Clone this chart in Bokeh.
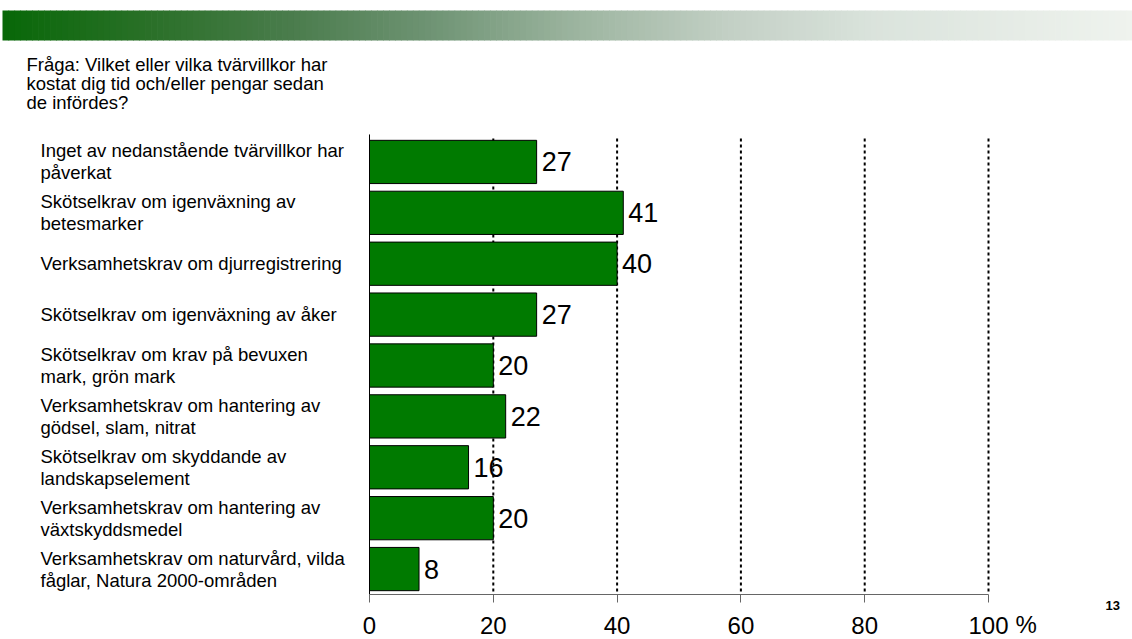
from bokeh.plotting import figure
from bokeh.models import (Range1d, FixedTicker, ColumnDataSource,
                          LabelSet, Label, BoxAnnotation)
from bokeh.core.properties import value
from bokeh.embed import file_html
from bokeh.resources import INLINE

# ---------------- data ----------------
categories = [
    "Inget av nedanstående tvärvillkor har\npåverkat",
    "Skötselkrav om igenväxning av\nbetesmarker",
    "Verksamhetskrav om djurregistrering",
    "Skötselkrav om igenväxning av åker",
    "Skötselkrav om krav på bevuxen\nmark, grön mark",
    "Verksamhetskrav om hantering av\ngödsel, slam, nitrat",
    "Skötselkrav om skyddande av\nlandskapselement",
    "Verksamhetskrav om hantering av\nväxtskyddsmedel",
    "Verksamhetskrav om naturvård, vilda\nfåglar, Natura 2000-områden",
]
values = [27, 41, 40, 27, 20, 22, 16, 20, 8]
x_ticks = [0, 20, 40, 60, 80, 100]
question_lines = [
    "Fråga: Vilket eller vilka tvärvillkor har",
    "kostat dig tid och/eller pengar sedan",
    "de infördes?",
]
unit_label = "%"
page_number = "13"

FONT = "Liberation Sans"

# ---------------- layout geometry (pixels) ----------------
W, H = 1132, 639
PX_X0, PX_X100 = 369, 988          # where 0 and 100 % fall
PX_TOP, PX_AXIS = 136, 594         # top of category band, x-axis line
ncat = len(categories)
kx = (PX_X100 - PX_X0) / 100.0
ky = (PX_AXIS - PX_TOP) / ncat
x_start, x_end = -PX_X0 / kx, (W - PX_X0) / kx
y_top = -0.5 - PX_TOP / ky
y_bottom = ncat - 0.5 + (H - PX_AXIS) / ky

p = figure(width=W, height=H,
           x_range=Range1d(x_start, x_end),
           y_range=Range1d(y_bottom, y_top),
           output_backend="svg", toolbar_location=None, min_border=0)
p.outline_line_color = None
p.background_fill_color = "white"
p.grid.visible = False

# ---------------- banner (gradient decoration) ----------------
stops = [(0.0, (8, 104, 8)), (0.13, (42, 112, 40)), (0.255, (74, 124, 76)),
         (0.38, (111, 148, 116)), (0.51, (157, 181, 160)), (0.64, (194, 207, 196)),
         (0.77, (218, 227, 220)), (1.0, (239, 243, 238))]

def interp(f):
    for (f0, c0), (f1, c1) in zip(stops[:-1], stops[1:]):
        if f0 <= f <= f1:
            t = (f - f0) / (f1 - f0)
            return "#%02x%02x%02x" % tuple(int(round(a + (b - a) * t)) for a, b in zip(c0, c1))
    return "#%02x%02x%02x" % stops[-1][1]

b_left, b_right, b_top, b_bottom = 2, W, H - 10, H - 40
n = 190
step = (b_right - b_left) / n
for i in range(n):
    p.add_layout(BoxAnnotation(left=b_left + i * step, right=b_left + (i + 1) * step + 0.7,
                               top=b_top, bottom=b_bottom,
                               left_units="screen", right_units="screen",
                               top_units="screen", bottom_units="screen",
                               fill_color=interp((i + 0.5) / n), fill_alpha=1.0,
                               line_color=None, level="underlay"))

# ---------------- bars ----------------
idx = list(range(ncat))
src = ColumnDataSource(dict(idx=idx, cat=categories, val=values,
                            txt=[str(v) for v in values]))

# dotted vertical grid lines (only over the bar area)
grid_x = x_ticks[1:]
p.segment(x0=grid_x, x1=grid_x, y0=[-0.46] * len(grid_x), y1=[ncat - 0.5] * len(grid_x),
          line_color="black", line_width=2, line_dash="3 3")

p.hbar(y="idx", left=0, right="val", height=0.85, source=src,
       fill_color="#007a00", line_color="black", line_width=1)

# y axis line
p.segment(x0=[0], x1=[0], y0=[-0.54], y1=[ncat - 0.5], line_color="black", line_width=1)

# ---------------- x axis ----------------
p.yaxis.visible = False
xa = p.xaxis[0]
xa.fixed_location = ncat - 0.5
xa.bounds = (0, 100)
xa.ticker = FixedTicker(ticks=x_ticks)
xa.axis_line_color = "#666666"
xa.major_tick_line_color = "#666666"
xa.major_tick_out = 8
xa.major_tick_in = 0
xa.minor_tick_line_color = None
xa.major_label_standoff = 14
xa.major_label_text_font = FONT
xa.major_label_text_font_size = "24px"
xa.major_label_text_color = "black"

# value labels
p.add_layout(LabelSet(x="val", y="idx", text="txt", source=src, x_offset=5,
                      text_font=value(FONT), text_font_size=value("27px"),
                      text_color="black", text_align="left", text_baseline="middle"))

# category labels (left aligned)
p.add_layout(LabelSet(x=40, x_units="screen", y="idx", text="cat", source=src,
                      text_font=value(FONT), text_font_size=value("18.5px"),
                      text_color="black", text_align="left", text_baseline="middle",
                      text_line_height=1.05))

# question text
q_base = [64, 83, 102]
for line, yb in zip(question_lines, q_base):
    p.add_layout(Label(x=26, y=H - yb, x_units="screen", y_units="screen",
                       text=line, text_font=FONT, text_font_size="18.5px",
                       text_color="black", text_baseline="alphabetic"))

# percent sign next to 100
p.add_layout(Label(x=1015, y=H - 624, x_units="screen", y_units="screen", text=unit_label,
                   text_font=FONT, text_font_size="24px", text_color="black",
                   text_baseline="alphabetic"))

# page number
p.add_layout(Label(x=1105, y=H - 605, x_units="screen", y_units="screen", text=page_number,
                   text_font=FONT, text_font_size="13px", text_font_style="bold",
                   text_color="black", text_baseline="alphabetic"))

open("out.html", "w").write(file_html(p, INLINE))
